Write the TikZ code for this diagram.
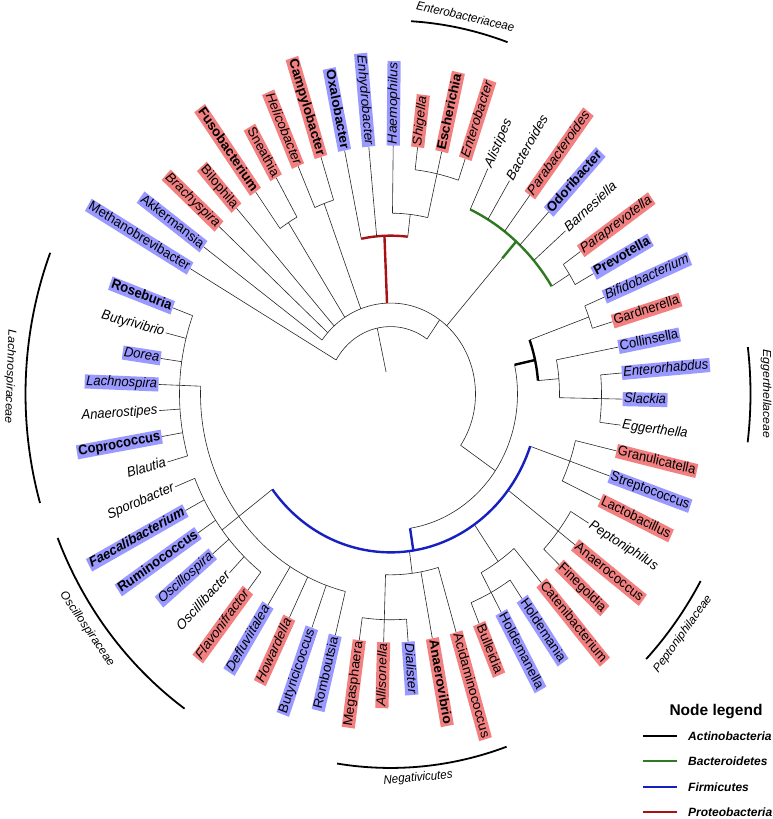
\documentclass[tikz,border=0pt]{standalone}
\usepackage{fontspec}
\setmainfont{Liberation Sans}
\definecolor{BoxRed}{RGB}{242,128,128}
\definecolor{BoxBlue}{RGB}{153,153,255}
\definecolor{PhylGreen}{RGB}{46,122,32}
\definecolor{PhylBlue}{RGB}{22,32,192}
\definecolor{PhylRed}{RGB}{168,16,20}
\newcommand{\leaffont}{\fontsize{13}{15}\selectfont}
% one inner node: stem from parent radius #2 to radius #3, arc over leaf slots #4..#5
\newcommand{\clade}[5][]{%
  \pgfmathsetmacro{\cladeA}{159.7+6.034*#4}%
  \pgfmathsetmacro{\cladeB}{159.7+6.034*#5}%
  \pgfmathsetmacro{\cladeM}{(\cladeA+\cladeB)/2}%
  \draw[branch,#1] (\cladeM:#2) -- (\cladeM:#3)
    (\cladeA:#3) arc[start angle=\cladeA, end angle=\cladeB, radius=#3];%
}

\begin{document}
\begin{tikzpicture}[x=1pt, y=1pt,
  branch/.style={line width=0.6pt, draw=black!85},
  phyl/.style={line width=2.4pt},
  leaf/.style={transform shape, inner xsep=1.5pt, inner ysep=0.5pt,
    text height=9.5pt, text depth=2.7pt, font=\leaffont},
  lr/.style={leaf, fill=BoxRed},
  lb/.style={leaf, fill=BoxBlue},
  ln/.style={leaf},
  up/.style={},
  it/.style={font=\leaffont\itshape},
  bf/.style={font=\leaffont\bfseries},
  bi/.style={font=\leaffont\bfseries\itshape},
  family/.style={transform shape, inner sep=0pt, font=\fontsize{11.5}{13}\selectfont\itshape},
  famarc/.style={line width=1.8pt},
  legtext/.style={inner sep=0pt, anchor=west, font=\fontsize{12}{14}\selectfont\bfseries\itshape}
]
\useasboundingbox (0,0) rectangle (773,819);

\begin{scope}[shift={(390.5,425)}, yscale=1.07]
% tree
\clade{21}{63}{42.25}{58}
\clade{63}{85}{27.5}{57}
\clade{85}{127}{19.75}{35.25}
\clade{148}{190}{3}{16}
\clade{190}{211}{0}{6}
\clade{190}{211}{7}{12}
\clade{148}{169}{18}{21}
\clade{169}{211}{17}{19}
\clade{148}{190}{23}{25}
\clade{190}{211}{22}{24}
\clade{148}{211}{26}{28}
\clade{148}{190}{29}{31}
\clade{148}{169}{33}{35}
\clade{169}{211}{32}{34}
\clade{148}{211}{36}{37}
\clade{190}{211}{38}{39}
\clade{148}{169}{46}{48}
\clade{169}{211}{45}{47}
\clade{85}{190}{51}{52}
\clade{85}{190}{53}{54}
\draw[branch] ({159.7+6.034*41.25}:85) -- ({159.7+6.034*41.25}:169);

% phylum nodes
\clade[phyl,draw=black]{127}{148}{34}{36.5}
\clade[phyl,draw=PhylBlue]{127}{148}{9.5}{30}
\clade[phyl,draw=PhylGreen]{169}{190}{38.5}{44}
\clade[phyl,draw=PhylRed]{85}{148}{47}{50}

% leaves
\foreach \i/\rp/\nm/\bx/\ft in {
  0/211/Roseburia/lb/bf, 1/211/Butyrivibrio/ln/it, 2/211/Dorea/lb/it,
  3/211/Lachnospira/lb/it, 4/211/Anaerostipes/ln/it, 5/211/Coprococcus/lb/bf,
  6/211/Blautia/ln/it, 7/211/Sporobacter/ln/it, 8/211/Faecalibacterium/lb/bi,
  9/211/Ruminococcus/lb/bf, 10/211/Oscillospira/lb/it, 11/211/Oscillibacter/ln/it,
  12/211/Flavonifractor/lr/it, 13/190/Defluviitalea/lb/it, 14/190/Howardella/lr/it,
  15/190/Butyricicoccus/lb/up, 16/190/Romboutsia/lb/up, 17/211/Megasphaera/lr/up,
  18/211/Allisonella/lr/it, 19/211/Dialister/lb/it, 20/169/Anaerovibrio/lr/bf,
  21/169/Acidaminococcus/lr/up, 22/211/Bulleidia/lr/up, 23/211/Holdemanella/lb/up,
  24/211/Holdemania/lb/up, 25/190/Catenibacterium/lr/up, 26/211/Finegoldia/lr/up,
  27/211/Anaerococcus/lr/up, 28/211/Peptoniphilus/ln/it, 29/190/Lactobacillus/lr/up,
  30/190/Streptococcus/lb/up, 31/190/Granulicatella/lr/up, 32/211/Eggerthella/ln/it,
  33/211/Slackia/lb/it, 34/211/Enterorhabdus/lb/it, 35/169/Collinsella/lb/up,
  36/211/Gardnerella/lr/up, 37/211/Bifidobacterium/lb/it, 38/211/Prevotella/lb/bf,
  39/211/Paraprevotella/lr/it, 40/190/Barnesiella/ln/it, 41/190/Odoribacter/lb/bf,
  42/190/Parabacteroides/lr/it, 43/190/Bacteroides/ln/it, 44/190/Alistipes/ln/it,
  45/211/Enterobacter/lr/it, 46/211/Escherichia/lr/bf, 47/211/Shigella/lr/it,
  48/169/Haemophilus/lb/it, 49/148/Enhydrobacter/lb/it, 50/148/Oxalobacter/lb/bf,
  51/190/Campylobacter/lr/bf, 52/190/Helicobacter/lr/it, 53/190/Sneathia/lr/up,
  54/190/Fusobacterium/lr/bf, 55/85/Bilophila/lr/up, 56/85/Brachyspira/lr/it,
  57/85/Akkermansia/lb/up, 58/63/Methanobrevibacter/lb/up}{
  \pgfmathsetmacro{\lfang}{159.7+6.034*\i}
  \pgfmathtruncatemacro{\lft}{and(mod(\lfang,360)>90, mod(\lfang,360)<270)}
  \ifnum\lft=1
    \node[\bx,\ft,rotate=\lfang-180,anchor=east] (lf\i) at (\lfang:232) {\nm};
    \draw[branch] (\lfang:\rp) -- (lf\i.east);
  \else
    \node[\bx,\ft,rotate=\lfang,anchor=west] (lf\i) at (\lfang:232) {\nm};
    \draw[branch] (\lfang:\rp) -- (lf\i.west);
  \fi
}

% families
\draw[famarc] (158.8:365) arc[start angle=158.8, end angle=196.2, radius=365];
\node[family, rotate=-92.4] (fLach) at (177.6:381) {Lachnospiraceae};
\draw[famarc] (202:359) arc[start angle=202, end angle=235, radius=359];
\node[family, rotate=305.9] (fOsc) at (215.9:374.6) {Oscillospiraceae};
\draw[famarc] (261.2:349.5) arc[start angle=261.2, end angle=289.4, radius=349.5];
\node[family, rotate=4.4] (fNeg) at (274.4:360) {Negativicutes};
\draw[famarc] (315.9:356) arc[start angle=315.9, end angle=330.6, radius=356];
\node[family, rotate=52.5] (fPep) at (322.5:368.6) {Peptoniphilaceae};
\draw[famarc] (-7.2:360) arc[start angle=-7.2, end angle=7, radius=360];
\node[family, rotate=-90] (fEgg) at (0:375.5) {Eggerthellaceae};
\draw[famarc] (70.4:349) arc[start angle=70.4, end angle=86.6, radius=349];
\node[family, rotate=-12] (fEnt) at (78:361) {Enterobacteriaceae};
\end{scope}

% legend
\node[inner sep=0pt, font=\fontsize{15.5}{18}\selectfont\bfseries] (lgHead) at (716,107) {Node legend};
\node[legtext] (lgAct) at (688,83) {Actinobacteria};
\node[legtext] (lgBac) at (688,58) {Bacteroidetes};
\node[legtext] (lgFir) at (688,32) {Firmicutes};
\node[legtext] (lgPro) at (688,7) {Proteobacteria};
\draw[line width=2.6pt, black] ([xshift=-45pt]lgAct.west) -- ([xshift=-11pt]lgAct.west);
\draw[line width=2.6pt, PhylGreen] ([xshift=-45pt]lgBac.west) -- ([xshift=-11pt]lgBac.west);
\draw[line width=2.6pt, PhylBlue] ([xshift=-45pt]lgFir.west) -- ([xshift=-11pt]lgFir.west);
\draw[line width=2.6pt, PhylRed] ([xshift=-45pt]lgPro.west) -- ([xshift=-11pt]lgPro.west);
\end{tikzpicture}
\end{document}
